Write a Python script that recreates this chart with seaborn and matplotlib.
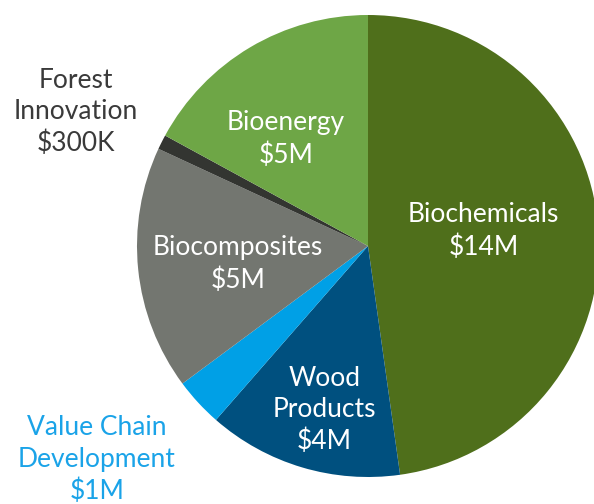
import matplotlib.pyplot as plt
import seaborn as sns

# Funding by area ($M), clockwise from 12 o'clock
areas = ["Biochemicals", "Wood\nProducts", "Value Chain\nDevelopment",
         "Biocomposites", "Forest\nInnovation", "Bioenergy"]
amounts = [14, 4, 1, 5, 0.3, 5]
amount_labels = ["$14M", "$4M", "$1M", "$5M", "$300K", "$5M"]
colors = ["#4f6f1b", "#00507f", "#00a0e6", "#737670", "#333531", "#6ea646"]

sns.set_theme(style="white")
plt.rcParams["font.family"] = ["Lato", "DejaVu Sans"]

fig = plt.figure(figsize=(5.94, 5.04), dpi=100)
ax = fig.add_axes([0, 0, 1, 1])

ax.pie(amounts, colors=colors, startangle=90, counterclock=False,
       radius=1, wedgeprops=dict(linewidth=0))

# label placement (data coords) and colour per slice
label_pos = [(0.50, 0.065), (-0.19, -0.71), (-1.173, -0.926),
             (-0.563, -0.078), (-1.264, 0.58), (-0.355, 0.463)]
label_col = ["white", "white", "#1aa3e8", "white", "#3a3a3a", "white"]

for name, amt, (x, y), c in zip(areas, amount_labels, label_pos, label_col):
    ax.text(x, y, f"{name}\n{amt}", ha="center", va="center", color=c,
            fontsize=19, linespacing=1.33)

ax.set_xlim(-368 / 231, (594 - 368) / 231)
ax.set_ylim(-(504 - 246) / 231, 246 / 231)
ax.set_aspect("equal", adjustable="datalim")
ax.axis("off")

fig.savefig("out.png", dpi=100)
